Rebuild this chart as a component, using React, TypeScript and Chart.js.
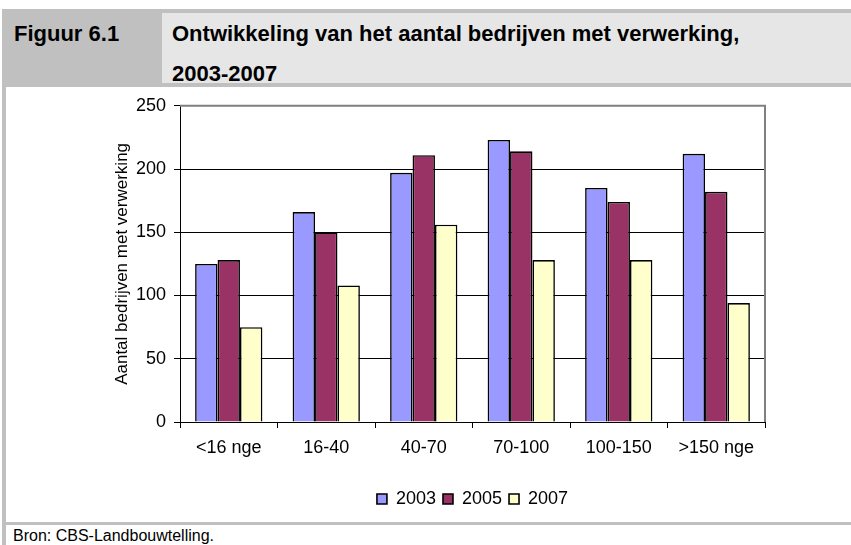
import React, { useEffect, useRef } from "react";
import { Chart, registerables } from "chart.js";

Chart.register(...registerables);

const categories = ["<16 nge", "16-40", "40-70", "70-100", "100-150", ">150 nge"];
const series2003 = [125, 166, 197, 223, 185, 212];
const series2005 = [128, 150, 211, 214, 174, 182];
const series2007 = [75, 108, 156, 128, 128, 94];
const seriesLabels = ["2003", "2005", "2007"];
const yTicks = { min: 0, max: 250, step: 50 };

const FONT = "'Liberation Sans', Arial, sans-serif";

const framePlugin = {
  id: "frame",
  afterLayout(chart: any) {
    const lg = chart.legend;
    if (lg && chart.chartArea) {
      lg.left = chart.chartArea.left;
      lg.right = chart.chartArea.right;
      lg.width = lg.right - lg.left;
    }
  },
  afterDraw(chart: any) {
    const { ctx, chartArea } = chart;
    ctx.save();
    ctx.strokeStyle = "#808080";
    ctx.lineWidth = 2;
    ctx.beginPath();
    ctx.moveTo(chartArea.left, chartArea.top);
    ctx.lineTo(chartArea.right, chartArea.top);
    ctx.lineTo(chartArea.right, chartArea.bottom);
    ctx.stroke();
    ctx.restore();
  },
};

export default function App() {
  const ref = useRef<HTMLCanvasElement | null>(null);

  useEffect(() => {
    document.body.style.margin = "0";
    if (!ref.current) return;
    const chart = new Chart(ref.current, {
      type: "bar",
      data: {
        labels: categories,
        datasets: [
          { label: seriesLabels[0], data: series2003, backgroundColor: "#9999FF", borderColor: "#000000", borderWidth: 1.6 },
          { label: seriesLabels[1], data: series2005, backgroundColor: "#993366", borderColor: "#000000", borderWidth: 1.6 },
          { label: seriesLabels[2], data: series2007, backgroundColor: "#FFFFCC", borderColor: "#000000", borderWidth: 1.6 },
        ],
      },
      options: {
        responsive: false,
        animation: false,
        devicePixelRatio: 1,
        layout: { padding: { left: 100, right: 86, top: 18, bottom: 4 } },
        datasets: { bar: { categoryPercentage: 0.69, barPercentage: 1.0 } },
        plugins: {
          tooltip: { enabled: false },
          legend: {
            position: "bottom",
            labels: {
              boxWidth: 10,
              boxHeight: 10,
              padding: 7,
              color: "#000",
              font: { family: FONT, size: 18 },
            },
          },
        },
        scales: {
          x: {
            afterFit: (s: any) => { s.height = 61; },
            grid: { drawOnChartArea: false, drawTicks: true, tickLength: 6, tickColor: "#000", offset: true },
            border: { display: true, color: "#000", width: 1 },
            ticks: { color: "#000", padding: 9, font: { family: FONT, size: 18 }, maxRotation: 0 },
          },
          y: {
            min: yTicks.min,
            max: yTicks.max,
            afterFit: (s: any) => { s.width = 74; },
            ticks: { stepSize: yTicks.step, color: "#000", padding: 8, font: { family: FONT, size: 18 } },
            grid: {
              color: (c: any) => (c.tick && c.tick.value === yTicks.max ? "rgba(0,0,0,0)" : "#000"),
              tickColor: "#000",
              tickLength: 6,
              lineWidth: 1,
            },
            border: { display: true, color: "#000", width: 1 },
            title: {
              display: true,
              text: "Aantal bedrijven met verwerking",
              color: "#000",
              padding: { top: 6, bottom: 0 },
              font: { family: FONT, size: 17 },
            },
          },
        },
      },
      plugins: [framePlugin],
    } as any);
    return () => chart.destroy();
  }, []);

  return (
    <div style={{ position: "relative", width: 851, height: 545, overflow: "hidden", background: "#fff" }}>
      <div style={{ position: "absolute", left: 2, top: 9, width: 849, height: 78, background: "#c0c0c0" }} />
      <div style={{ position: "absolute", left: 162, top: 13, width: 689, height: 70, background: "#e6e6e6" }} />
      <div style={{ position: "absolute", left: 2, top: 87, width: 4, height: 458, background: "#c0c0c0" }} />
      <div style={{ position: "absolute", left: 2, top: 522, width: 849, height: 3, background: "#c0c0c0" }} />
      <div style={{ position: "absolute", left: 14, top: 23, fontFamily: FONT, fontWeight: "bold", fontSize: 22, lineHeight: "22px", whiteSpace: "nowrap" }}>
        Figuur 6.1
      </div>
      <div style={{ position: "absolute", left: 172, top: 23, fontFamily: FONT, fontWeight: "bold", fontSize: 22, lineHeight: "22px", whiteSpace: "nowrap" }}>
        Ontwikkeling van het aantal bedrijven met verwerking,
      </div>
      <div style={{ position: "absolute", left: 172, top: 63, fontFamily: FONT, fontWeight: "bold", fontSize: 22, lineHeight: "22px", whiteSpace: "nowrap" }}>
        2003-2007
      </div>
      <canvas ref={ref} width={845} height={435} style={{ position: "absolute", left: 6, top: 87, width: 845, height: 435 }} />
      <div style={{ position: "absolute", left: 13, top: 528, fontFamily: FONT, fontSize: 16, lineHeight: "16px", whiteSpace: "nowrap" }}>
        Bron: CBS-Landbouwtelling.
      </div>
    </div>
  );
}
